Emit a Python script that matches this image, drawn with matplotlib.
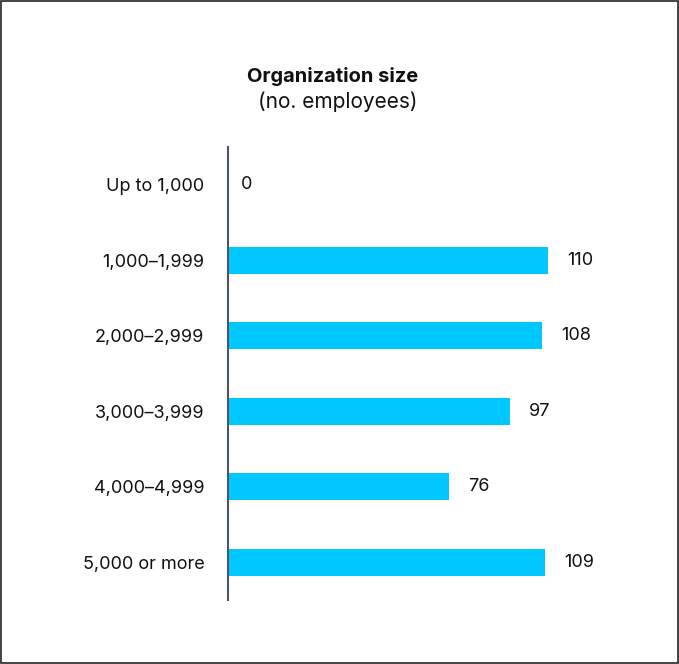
import matplotlib.pyplot as plt
from matplotlib.patches import Rectangle

categories = ['Up to 1,000', '1,000–1,999', '2,000–2,999', '3,000–3,999', '4,000–4,999', '5,000 or more']
counts = [0, 110, 108, 97, 76, 109]

BAR_COLOR = '#00C8FF'
AXIS_COLOR = '#4B5563'

plt.rcParams['font.family'] = ['Inter', 'DejaVu Sans']

fig = plt.figure(figsize=(6.79, 6.64), dpi=100)
ax = fig.add_axes([228 / 679, 64 / 664, 412 / 679, 453 / 664])

y = list(range(len(categories)))
ax.barh(y, counts, height=0.36, color=BAR_COLOR)
ax.set_ylim(len(categories) - 0.5, -0.5)
ax.set_xlim(0, 412 / (320 / 110))

for yi, v in zip(y, counts):
    ax.annotate(str(v), (v, yi), xytext=(9.5 if v == 0 else 13.5, 0), textcoords='offset points',
                ha='left', va='center', fontsize=13, color='#111111')

ax.set_yticks(y)
ax.set_yticklabels(categories, fontsize=13, color='#111111')
ax.tick_params(axis='y', length=0, pad=17)
ax.set_xticks([])
for side in ['top', 'right', 'bottom']:
    ax.spines[side].set_visible(False)
ax.spines['left'].set_color(AXIS_COLOR)
ax.spines['left'].set_linewidth(1.5)

fig.text(333 / 679, 1 - 76 / 664, 'Organization size', ha='center', va='center',
         fontsize=14.5, fontweight='bold', color='#111111')
fig.text(338 / 679, 1 - 102 / 664, '(no. employees)', ha='center', va='center',
         fontsize=15, color='#111111')

fig.patches.append(Rectangle((0.002, 0.002), 0.996, 0.996, transform=fig.transFigure,
                             fill=False, edgecolor='#222222', linewidth=1.2))

fig.savefig('out.png', dpi=100)
